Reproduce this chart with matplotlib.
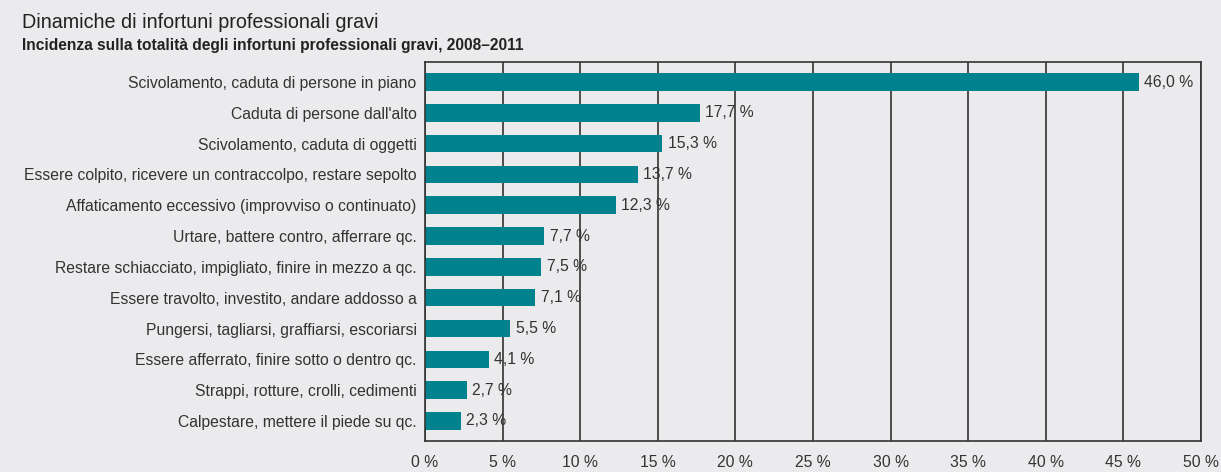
import matplotlib.pyplot as plt

plt.rcParams["font.family"] = ["Liberation Sans", "DejaVu Sans"]

# accident types, top to bottom, and share of all serious accidents (%)
categories = [
    "Scivolamento, caduta di persone in piano",
    "Caduta di persone dall'alto",
    "Scivolamento, caduta di oggetti",
    "Essere colpito, ricevere un contraccolpo, restare sepolto",
    "Affaticamento eccessivo (improvviso o continuato)",
    "Urtare, battere contro, afferrare qc.",
    "Restare schiacciato, impigliato, finire in mezzo a qc.",
    "Essere travolto, investito, andare addosso a",
    "Pungersi, tagliarsi, graffiarsi, escoriarsi",
    "Essere afferrato, finire sotto o dentro qc.",
    "Strappi, rotture, crolli, cedimenti",
    "Calpestare, mettere il piede su qc.",
]
shares = [46.0, 17.7, 15.3, 13.7, 12.3, 7.7, 7.5, 7.1, 5.5, 4.1, 2.7, 2.3]
xticks = [0, 5, 10, 15, 20, 25, 30, 35, 40, 45, 50]

bg = "#ebebed"
teal = "#00838f"
ink = "#333333"

fig = plt.figure(figsize=(12.21, 4.72), dpi=100, facecolor=bg)
ax = fig.add_axes([0.348, 0.0657, 0.6356, 0.803], facecolor=bg)

ypos = list(range(len(categories)))
ax.barh(ypos, shares, height=0.57, color=teal, zorder=3)

for y, v in zip(ypos, shares):
    ax.text(v + 0.35, y, f"{v:.1f} %".replace(".", ","), va="center", ha="left",
            fontsize=11.3, color=ink, zorder=1)

ax.set_xlim(0, 50)
ax.set_ylim(len(categories) - 0.35, -0.65)
ax.set_xticks(xticks)
ax.set_xticklabels([f"{t} %" for t in xticks], fontsize=11.3, color=ink)
ax.set_yticks(ypos)
ax.set_yticklabels(categories, fontsize=11.3, color=ink)
ax.tick_params(length=0, pad=6)
ax.tick_params(axis="x", pad=10)

ax.grid(axis="x", color=ink, linewidth=1.2, zorder=2)
ax.set_axisbelow(False)
for s in ax.spines.values():
    s.set_color(ink)
    s.set_linewidth(1.2)
    s.set_zorder(4)

fig.text(0.018, 0.941, "Dinamiche di infortuni professionali gravi", fontsize=14.2,
         color="#222222", va="baseline")
fig.text(0.018, 0.895, "Incidenza sulla totalità degli infortuni professionali gravi, 2008–2011",
         fontsize=11.2, fontweight="bold", color="#222222", va="baseline")

fig.savefig("out.png", dpi=100, facecolor=bg)
